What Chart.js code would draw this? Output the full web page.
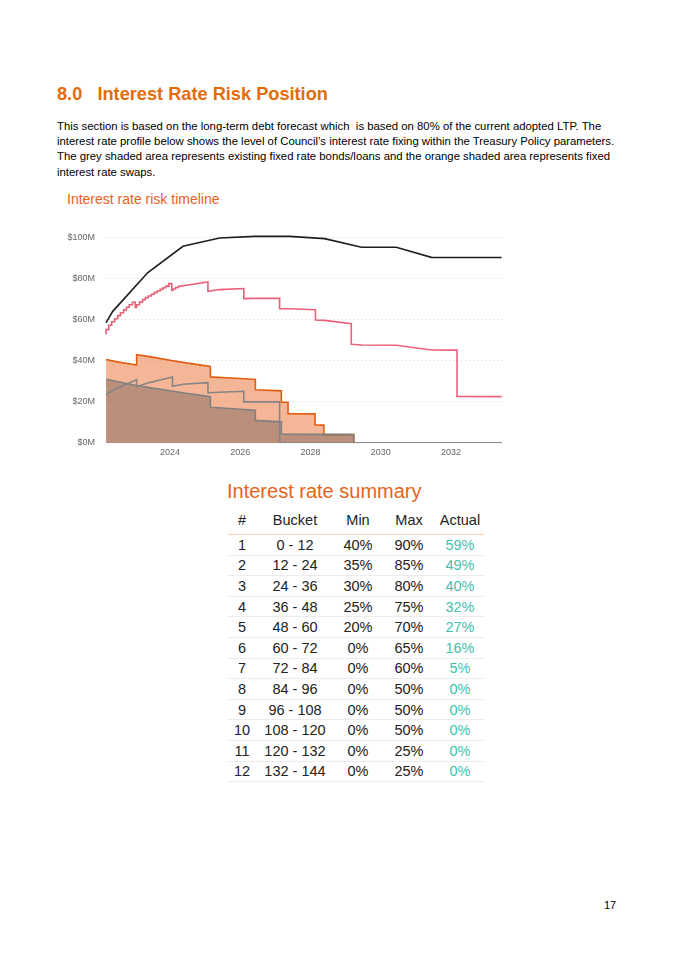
<!DOCTYPE html>
<html>
<head>
<meta charset="utf-8">
<script src="https://cdn.jsdelivr.net/npm/chart.js@4.4.1/dist/chart.umd.min.js"></script>
<style>
    body { margin: 0; background: #fff; font-family: 'Liberation Sans', Arial, sans-serif; }
    .page { position: relative; width: 675px; height: 954px; overflow: hidden; }
    h1 { position: absolute; left: 57px; top: 84px; margin: 0; font-size: 18.2px; font-weight: bold; color: #e36c0a; white-space: pre; }
    .intro { position: absolute; left: 57px; top: 119px; margin: 0; font-size: 11.35px; line-height: 15.2px; color: #000; }
    .chart-title { position: absolute; left: 67px; top: 191px; font-size: 14px; color: #e8631a; }
    .chart-box { position: absolute; left: 50px; top: 214px; width: 460px; height: 249px; }
    .table-title { position: absolute; left: 227px; top: 480px; font-size: 20px; color: #e8631a; }
    table { position: absolute; left: 228px; top: 505px; border-collapse: collapse; font-size: 14.5px; color: #222; }
    th { font-weight: normal; height: 27px; text-align: center; border-bottom: 1px solid #f9d2b6; }
    td { height: 19.6px; padding: 0; text-align: center; border-bottom: 1px solid #ececec; }
    td.actual { color: #3fc1ad; }
    .page-num { position: absolute; left: 604px; top: 899px; font-size: 11px; color: #000; }
</style>
</head>
<body>
<div class="page">
    <h1>8.0   Interest Rate Risk Position</h1>
    <p class="intro">This section is based on the long-term debt forecast which&nbsp; is based on 80% of the current adopted LTP. The<br>interest rate profile below shows the level of Council’s interest rate fixing within the Treasury Policy parameters.<br>The grey shaded area represents existing fixed rate bonds/loans and the orange shaded area represents fixed<br>interest rate swaps.</p>

    <div class="chart-title">Interest rate risk timeline</div>
    <div class="chart-box"><canvas id="riskChart"></canvas></div>

    <div class="table-title">Interest rate summary</div>
    <table id="summaryTable"></table>

    <div class="page-num">17</div>
</div>

<script>
// Axis ticks
const xTickYears = [2024, 2026, 2028, 2030, 2032];
const yTickValues = [0, 20, 40, 60, 80, 100];

// Total debt forecast ($M) - black line
const debtYears = [2022.18, 2022.37, 2023.37, 2024.37, 2025.41, 2026.41, 2027.40, 2028.40, 2029.45, 2030.44, 2031.44, 2033.44];
const debtValues = [58.6, 64.1, 83.0, 95.8, 99.8, 100.6, 100.6, 99.5, 95.3, 95.3, 90.4, 90.3];

// Maximum fixed limit - pink, monthly steps early on
const maxStepYears = [2022.18, 2022.26, 2022.34, 2022.43, 2022.51, 2022.59, 2022.68, 2022.76, 2022.84, 2022.93, 2023.01,
    2023.05, 2023.13, 2023.22, 2023.30, 2023.38, 2023.47, 2023.55, 2023.63, 2023.72, 2023.80, 2023.88, 2023.97, 2024.05,
    2024.08, 2024.16, 2024.24, 2024.32, 2024.37];
const maxStepValues = [52.8, 55.2, 57.3, 59.0, 60.5, 62.0, 63.4, 64.8, 66.1, 67.3, 68.5,
    66.0, 67.3, 68.6, 69.8, 70.8, 71.6, 72.4, 73.2, 74.0, 74.8, 75.6, 76.4, 77.6,
    74.3, 75.0, 75.7, 76.3, 76.6];
const maxYears = [2024.37, 2025.08, 2025.08, 2025.41, 2026.10, 2026.10, 2026.41, 2027.12, 2027.12, 2027.40, 2028.14, 2028.14,
    2028.40, 2029.16, 2029.16, 2029.45, 2030.44, 2031.44, 2032.17, 2032.17, 2033.44];
const maxValues = [76.6, 78.4, 73.9, 74.7, 75.2, 70.3, 70.4, 70.4, 65.4, 65.4, 64.9, 59.9,
    59.7, 58.1, 48.1, 47.7, 47.6, 45.3, 45.2, 22.7, 22.6];

// Minimum fixed limit - grey line
const minYears = [2022.18, 2022.37, 2023.05, 2023.05, 2023.37, 2024.07, 2024.07, 2024.37, 2025.08, 2025.08, 2026.10, 2026.10, 2027.12, 2027.12, 2033.44];
const minValues = [23.5, 25.7, 30.8, 27.4, 29.2, 32.1, 27.6, 28.6, 29.4, 24.5, 25.2, 20.0, 20.0, 0, 0];

// Total fixed (bonds + swaps) - orange area
const fixedYears = [2022.18, 2022.5, 2023.04, 2023.05, 2023.5, 2024.0, 2024.5, 2025.15, 2025.15, 2025.6, 2026.0, 2026.43, 2026.43,
    2027.17, 2027.17, 2027.36, 2027.36, 2028.13, 2028.13, 2028.38, 2028.38, 2029.23, 2029.23];
const fixedValues = [40.7, 39.5, 38.0, 43.0, 41.8, 40.3, 38.9, 37.3, 32.2, 31.8, 31.4, 30.9, 25.9,
    25.4, 19.9, 19.8, 14.3, 14.2, 8.8, 8.7, 4.1, 4.1, 0];

// Existing fixed rate bonds/loans - grey area
const bondYears = [2022.18, 2022.6, 2023.05, 2023.5, 2024.0, 2024.5, 2025.15, 2025.15, 2025.6, 2026.0, 2026.43, 2026.43,
    2027.17, 2027.17, 2029.23, 2029.23, 2033.44];
const bondValues = [31.0, 29.6, 28.0, 26.8, 25.4, 24.1, 22.6, 17.4, 16.9, 16.4, 15.9, 11.0,
    10.3, 4.3, 4.1, 0, 0];

// Summary table
const bucketNums = [1, 2, 3, 4, 5, 6, 7, 8, 9, 10, 11, 12];
const bucketLabels = ['0 - 12', '12 - 24', '24 - 36', '36 - 48', '48 - 60', '60 - 72', '72 - 84', '84 - 96', '96 - 108', '108 - 120', '120 - 132', '132 - 144'];
const minPct = [40, 35, 30, 25, 20, 0, 0, 0, 0, 0, 0, 0];
const maxPct = [90, 85, 80, 75, 70, 65, 60, 50, 50, 50, 25, 25];
const actualPct = [59, 49, 40, 32, 27, 16, 5, 0, 0, 0, 0, 0];

function toPoints(xs, ys) {
    return xs.map((x, i) => ({ x: x, y: ys[i] }));
}

function buildTable() {
    const table = document.getElementById('summaryTable');
    const widths = [26, 76, 46, 52, 46];
    let html = '<tr>' + ['#', 'Bucket', 'Min', 'Max', 'Actual']
        .map((h, i) => `<th style="width:${widths[i]}px">${h}</th>`).join('') + '</tr>';
    bucketNums.forEach((n, i) => {
        html += `<tr><td>${n}</td><td>${bucketLabels[i]}</td><td>${minPct[i]}%</td>` +
            `<td>${maxPct[i]}%</td><td class="actual">${actualPct[i]}%</td></tr>`;
    });
    table.innerHTML = html;
}

function createRiskChart() {
    const ctx = document.getElementById('riskChart').getContext('2d');
    const lineBase = { pointRadius: 0, borderWidth: 1.6, tension: 0, fill: false };

    new Chart(ctx, {
        type: 'line',
        data: {
            datasets: [
                { ...lineBase, label: 'Total debt', data: toPoints(debtYears, debtValues), borderColor: '#1e1e1e', order: 1 },
                { ...lineBase, label: 'Max (steps)', data: toPoints(maxStepYears, maxStepValues), borderColor: '#ea6079', stepped: 'after', order: 2 },
                { ...lineBase, label: 'Max', data: toPoints(maxYears, maxValues), borderColor: '#ea6079', order: 2 },
                { ...lineBase, label: 'Min', data: toPoints(minYears, minValues), borderColor: '#858585', order: 3 },
                {
                    ...lineBase, label: 'Bonds/loans', data: toPoints(bondYears, bondValues),
                    borderColor: '#808080', backgroundColor: 'rgba(115, 95, 90, 0.45)', fill: 'origin', order: 4
                },
                {
                    ...lineBase, label: 'Fixed', data: toPoints(fixedYears, fixedValues),
                    borderColor: '#e25d10', backgroundColor: 'rgba(234, 110, 45, 0.5)', fill: 'origin', order: 5
                }
            ]
        },
        options: {
            responsive: true,
            maintainAspectRatio: false,
            animation: false,
            layout: { padding: { top: 4, right: 8, bottom: 0, left: 0 } },
            plugins: {
                legend: { display: false },
                tooltip: { enabled: false }
            },
            scales: {
                x: {
                    type: 'linear',
                    min: 2022.15,
                    max: 2033.45,
                    afterBuildTicks: axis => { axis.ticks = xTickYears.map(v => ({ value: v })); },
                    afterFit: axis => { axis.height = 20; },
                    ticks: {
                        color: '#666',
                        font: { family: 'Liberation Sans', size: 9 },
                        padding: 4,
                        maxRotation: 0,
                        callback: v => String(v)
                    },
                    grid: { display: false, drawTicks: false },
                    border: { display: false }
                },
                y: {
                    min: 0,
                    max: 104,
                    afterBuildTicks: axis => { axis.ticks = yTickValues.map(v => ({ value: v })); },
                    afterFit: axis => { axis.width = 55; },
                    ticks: {
                        color: '#666',
                        font: { family: 'Liberation Sans', size: 9 },
                        padding: 10,
                        callback: v => '$' + v + 'M'
                    },
                    grid: {
                        color: '#d6d6d6',
                        lineWidth: 1,
                        drawTicks: false
                    },
                    border: { display: false, dash: [1, 3] }
                }
            }
        }
    });
}

buildTable();
createRiskChart();
</script>
</body>
</html>
